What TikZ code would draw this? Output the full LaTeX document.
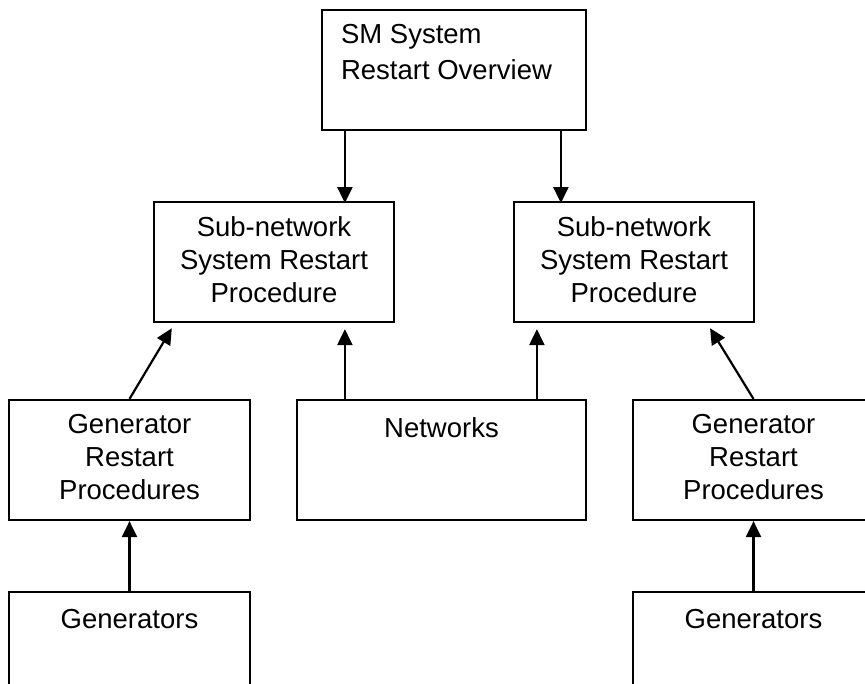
\documentclass[tikz,border=0pt]{standalone}
\usepackage{fontspec}
\setmainfont{Liberation Sans}
\usetikzlibrary{arrows.meta,calc}
\begin{document}
\begin{tikzpicture}[x=1pt,y=1pt,
  box/.style={draw=black,line width=2.2pt,rectangle,inner sep=0pt,minimum height=120pt},
  txt/.style={font=\fontsize{27.5}{33}\selectfont,align=center,anchor=north,inner sep=0pt},
  arr/.style={line width=2.2pt,-{Triangle[length=16pt,width=15pt]}}]
\useasboundingbox (0,0) rectangle (865,-684);
\begin{scope}
\clip (0,0) rectangle (865,-684);
% boxes
\node[box,minimum width=264pt] (top)   at (454,-70) {};
\node[box,minimum width=240pt] (sub1)  at (274,-262) {};
\node[box,minimum width=240pt] (sub2)  at (634,-262) {};
\node[box,minimum width=241pt] (gen1)  at (129.5,-460) {};
\node[box,minimum width=289pt] (net)   at (441.5,-460) {};
\node[box,minimum width=241pt] (gen2)  at (753.5,-460) {};
\node[box,minimum width=241pt] (gens1) at (129.5,-652) {};
\node[box,minimum width=241pt] (gens2) at (753.5,-652) {};
\end{scope}
% texts
\node[txt,anchor=north west,align=left,font=\fontsize{27.5}{36}\selectfont] (ttop) at ($(top.north west)+(20,-15)$) {SM System\\Restart Overview};
\node[txt] (tsub1)  at ($(sub1.north)+(0,-15)$) {Sub-network\\System Restart\\Procedure};
\node[txt] (tsub2)  at ($(sub2.north)+(0,-15)$) {Sub-network\\System Restart\\Procedure};
\node[txt] (tgen1)  at ($(gen1.north)+(0,-15)$) {Generator\\Restart\\Procedures};
\node[txt] (tnet)   at ($(net.north)+(0,-18)$) {Networks};
\node[txt] (tgen2)  at ($(gen2.north)+(0,-15)$) {Generator\\Restart\\Procedures};
\node[txt] (tgens1) at ($(gens1.north)+(0,-18)$) {Generators};
\node[txt] (tgens2) at ($(gens2.north)+(0,-18)$) {Generators};
% connectors
\draw[arr] ($(top.south west)+(24,0)$) -- ($(sub1.south west)+(192,120)$);
\draw[arr] ($(top.south west)+(240,0)$) -- ($(sub2.south west)+(48,120)$);
\draw[arr,shorten >=6pt] (gen1.north) -- ($(sub1.south west)+(22,0)$);
\draw[arr,shorten >=6pt] ($(net.north west)+(49,0)$) -- ($(sub1.south west)+(192,0)$);
\draw[arr,shorten >=6pt] ($(net.north west)+(241,0)$) -- ($(sub2.south west)+(24,0)$);
\draw[arr,shorten >=6pt] (gen2.north) -- ($(sub2.south west)+(194,0)$);
\draw[arr] (gens1.north) -- (gen1.south);
\draw[arr] (gens2.north) -- (gen2.south);
\end{tikzpicture}
\end{document}
